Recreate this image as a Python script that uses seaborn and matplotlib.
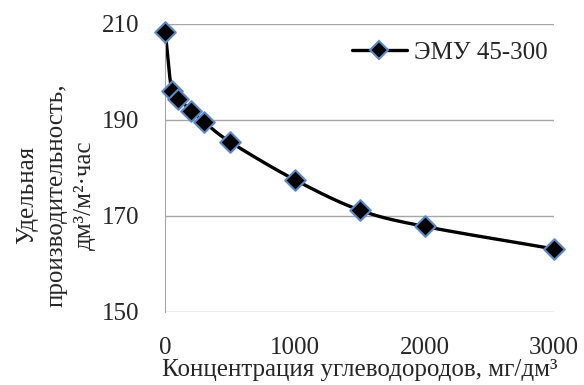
import numpy as np
import matplotlib.pyplot as plt
import seaborn as sns

conc = [0, 50, 100, 200, 300, 500, 1000, 1500, 2000, 3000]
flux = [208.3, 196.0, 194.4, 191.9, 189.6, 185.4, 177.5, 171.2, 167.8, 163.1]

sns.set_style("white")
plt.rcParams['font.family'] = ['Liberation Serif', 'DejaVu Serif']

fig, ax = plt.subplots(figsize=(5.84, 3.85), dpi=100)


# smoothed line like Excel (Catmull-Rom through the points)
def smooth(x, y, n=30):
    x = np.asarray(x, float)
    y = np.asarray(y, float)
    px = np.concatenate([[2 * x[0] - x[1]], x, [2 * x[-1] - x[-2]]])
    py = np.concatenate([[2 * y[0] - y[1]], y, [2 * y[-1] - y[-2]]])
    xs, ys = [], []
    t = np.linspace(0, 1, n)
    for i in range(1, len(px) - 2):
        for p, out in ((px, xs), (py, ys)):
            p0, p1, p2, p3 = p[i - 1], p[i], p[i + 1], p[i + 2]
            out.extend(0.5 * ((2 * p1) + (-p0 + p2) * t
                              + (2 * p0 - 5 * p1 + 4 * p2 - p3) * t ** 2
                              + (-p0 + 3 * p1 - 3 * p2 + p3) * t ** 3))
    return xs, ys


edge = "#5a8ac6"
sx, sy = smooth(conc, flux)
ax.plot(sx, sy, color="black", lw=2.4, zorder=2, clip_on=False)
sns.scatterplot(x=conc, y=flux, marker="D", s=110, color="black",
                edgecolor=edge, linewidth=1.5, ax=ax, zorder=3, clip_on=False)
# legend proxy
ax.plot([], [], color="black", lw=2.4, marker="D", ms=9.5, mfc="black",
        mec=edge, mew=1.5, label="ЭМУ 45-300")
ax.legend(loc="upper right", frameon=False, fontsize=18, handlelength=2.2,
          handletextpad=0.3, borderpad=0, borderaxespad=0,
          bbox_to_anchor=(0.984, 0.94))

ax.set_xlim(0, 3000)
ax.set_ylim(150, 210)
ax.set_xticks([0, 1000, 2000, 3000])
ax.set_yticks([150, 170, 190, 210])
ax.tick_params(axis="y", labelsize=18, length=0, pad=19)
ax.tick_params(axis="x", labelsize=18, length=0, pad=18)
ax.yaxis.grid(True, color="#a6a6a6", lw=1)
ax.set_axisbelow(True)
for s in ("top", "right", "bottom"):
    ax.spines[s].set_visible(False)
ax.spines["left"].set_color("#a6a6a6")

ax.set_xlabel("Концентрация углеводородов, мг/дм³", fontsize=18, labelpad=0)
ax.set_ylabel("Удельная\nпроизводительность,\nдм³/м²·час", fontsize=18,
              linespacing=1.4)
ax.yaxis.set_label_coords(-0.178, 0.405)

plt.subplots_adjust(left=0.283, right=0.949, top=0.938, bottom=0.19)
fig.savefig("out.png", dpi=100)
